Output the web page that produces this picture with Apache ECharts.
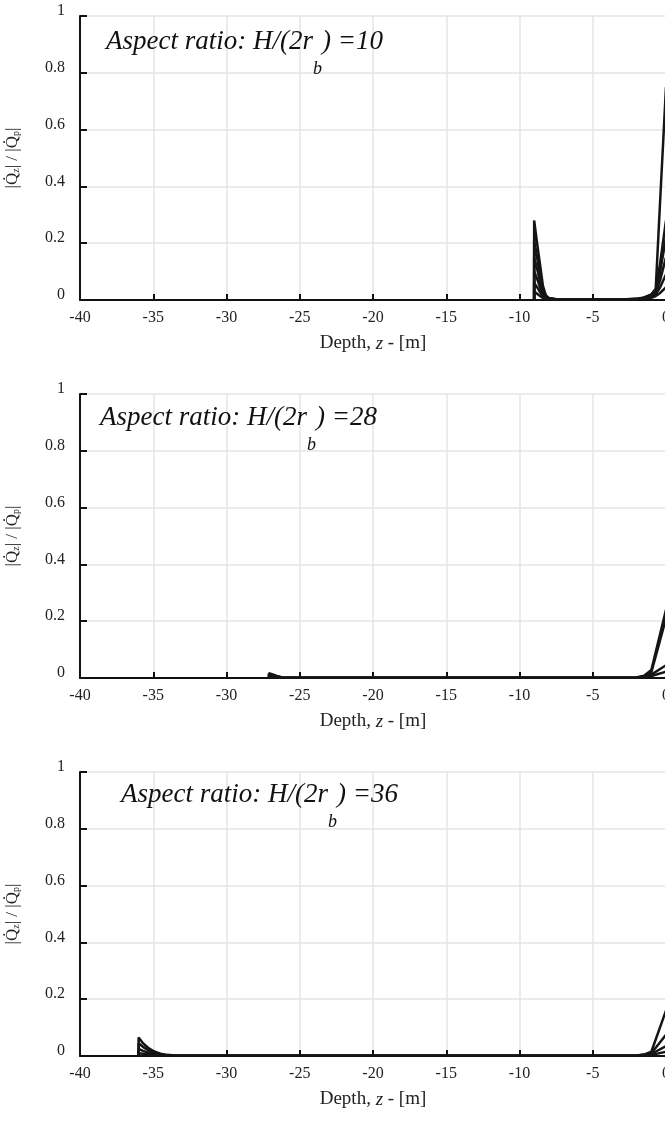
<!DOCTYPE html>
<html><head><meta charset="utf-8">
<script src="https://cdn.jsdelivr.net/npm/echarts@6/dist/echarts.min.js"></script>
<style>html,body{margin:0;padding:0;background:#fff}#c{width:665px;height:1123px}</style>
</head><body><div id="c"></div>
<script>
// ---- data ----
const aspectRatios = ['10', '28', '36'];
const yTickLabels = ['0', '0.2', '0.4', '0.6', '0.8', '1'];

// Panel 1 : H/(2rb) = 10
const zH10 = [-9.0, -9.0, -8.8, -8.6, -8.4, -8.2, -8.0, -7.5, -7.0, -6.0, -5.0, -4.0, -3.0, -2.0, -1.5, -1.0, -0.7, -0.4, 0.0];
const h10_a = [0, 0.28, 0.20, 0.125, 0.05, 0.016, 0.007, 0.003, 0.002, 0.001, 0.001, 0.001, 0.002, 0.004, 0.009, 0.020, 0.040, 0.35, 0.75];
const h10_b = [0, 0.21, 0.15, 0.090, 0.04, 0.013, 0.006, 0.003, 0.002, 0.001, 0.001, 0.001, 0.002, 0.004, 0.008, 0.018, 0.035, 0.13, 0.28];
const h10_c = [0, 0.15, 0.11, 0.065, 0.03, 0.011, 0.005, 0.002, 0.001, 0.001, 0.001, 0.001, 0.001, 0.003, 0.007, 0.016, 0.030, 0.10, 0.22];
const h10_d = [0, 0.10, 0.075, 0.045, 0.02, 0.008, 0.004, 0.002, 0.001, 0.001, 0.001, 0.001, 0.001, 0.003, 0.006, 0.014, 0.025, 0.07, 0.15];
const h10_e = [0, 0.06, 0.045, 0.028, 0.013, 0.006, 0.003, 0.002, 0.001, 0.001, 0.001, 0.001, 0.001, 0.002, 0.005, 0.011, 0.020, 0.045, 0.09];
const h10_f = [0, 0.03, 0.022, 0.014, 0.007, 0.004, 0.002, 0.001, 0.001, 0.001, 0.001, 0.001, 0.001, 0.002, 0.004, 0.008, 0.014, 0.025, 0.045];

// Panel 2 : H/(2rb) = 28
const zH28 = [-27.1, -27.1, -26.8, -26.5, -26.2, -25.0, -20.0, -15.0, -10.0, -5.0, -3.0, -2.0, -1.5, -1.0, 0.0];
const h28_a = [0, 0.017, 0.012, 0.006, 0.002, 0.001, 0.001, 0.001, 0.001, 0.001, 0.001, 0.002, 0.008, 0.028, 0.24];
const h28_b = [0, 0.013, 0.009, 0.005, 0.002, 0.001, 0.001, 0.001, 0.001, 0.001, 0.001, 0.002, 0.006, 0.020, 0.21];
const h28_c = [0, 0.008, 0.006, 0.003, 0.001, 0.001, 0.001, 0.001, 0.001, 0.001, 0.001, 0.002, 0.004, 0.012, 0.045];
const h28_d = [0, 0.004, 0.003, 0.002, 0.001, 0.001, 0.001, 0.001, 0.001, 0.001, 0.001, 0.001, 0.003, 0.007, 0.022];

// Panel 3 : H/(2rb) = 36
const zH36 = [-36.0, -36.0, -35.7, -35.3, -34.9, -34.5, -34.1, -33.5, -30.0, -25.0, -20.0, -15.0, -10.0, -5.0, -3.0, -2.0, -1.5, -1.0, 0.0];
const h36_a = [0, 0.065, 0.045, 0.027, 0.015, 0.008, 0.004, 0.002, 0.001, 0.001, 0.001, 0.001, 0.001, 0.001, 0.001, 0.002, 0.005, 0.015, 0.16];
const h36_b = [0, 0.045, 0.032, 0.019, 0.011, 0.006, 0.003, 0.002, 0.001, 0.001, 0.001, 0.001, 0.001, 0.001, 0.001, 0.002, 0.004, 0.010, 0.075];
const h36_c = [0, 0.025, 0.018, 0.011, 0.006, 0.004, 0.002, 0.001, 0.001, 0.001, 0.001, 0.001, 0.001, 0.001, 0.001, 0.001, 0.003, 0.007, 0.035];
const h36_d = [0, 0.010, 0.008, 0.005, 0.003, 0.002, 0.001, 0.001, 0.001, 0.001, 0.001, 0.001, 0.001, 0.001, 0.001, 0.001, 0.002, 0.004, 0.015];

const panels = [
  { z: zH10, curves: [h10_a, h10_b, h10_c, h10_d, h10_e, h10_f] },
  { z: zH28, curves: [h28_a, h28_b, h28_c, h28_d] },
  { z: zH36, curves: [h36_a, h36_b, h36_c, h36_d] }
];

// ---- layout / style ----
const SERIF = '"Liberation Serif", "Times New Roman", serif';
const gridTops = [16, 394, 772];
const titlePos = [[106, 28], [100, 404], [121, 781]];

const grids = gridTops.map(t => ({ left: 80, right: -1, top: t, height: 284, containLabel: false, outerBoundsMode: 'none' }));

const xAxes = gridTops.map((t, i) => ({
  type: 'value', gridIndex: i, min: -40, max: 0, interval: 5,
  name: '{n|Depth, }{i|z}{n| - [m]}', nameLocation: 'middle', nameGap: 34,
  nameTextStyle: { rich: {
    n: { fontFamily: SERIF, fontSize: 19, color: '#222' },
    i: { fontFamily: SERIF, fontSize: 19, fontStyle: 'italic', color: '#222' } } },
  axisLine: { onZero: false, lineStyle: { color: '#111', width: 2 } },
  axisTick: { inside: true, length: 6, lineStyle: { color: '#111', width: 2 } },
  axisLabel: { fontFamily: SERIF, fontSize: 16, color: '#222', margin: 10, showMaxLabel: true, showMinLabel: true },
  splitLine: { show: true, lineStyle: { color: '#e4e4e4', width: 1.5 } }
}));

const yAxes = gridTops.map((t, i) => ({
  type: 'value', gridIndex: i, min: 0, max: 1, interval: 0.2, position: 'left',
  name: '{n||Q\u0307}{s|z}{n|| / |Q\u0307}{s|p}{n||}', nameLocation: 'middle', nameGap: 59,
  nameTextStyle: { rich: {
    n: { fontFamily: SERIF, fontSize: 17, color: '#222' },
    s: { fontFamily: SERIF, fontSize: 10, color: '#222', verticalAlign: 'bottom', lineHeight: 12 } } },
  axisLine: { show: true, onZero: false, lineStyle: { color: '#111', width: 2 } },
  axisTick: { show: true, inside: true, length: 7, lineStyle: { color: '#111', width: 2 } },
  axisLabel: { fontFamily: SERIF, fontSize: 16, color: '#222', margin: 15, verticalAlign: 'bottom', lineHeight: 10,
    formatter: v => yTickLabels[Math.round(v / 0.2)] },
  splitLine: { show: true, lineStyle: { color: '#e4e4e4', width: 1.5 } }
}));

const titles = aspectRatios.map((r, i) => ({
  text: '{n|Aspect ratio: H/(2r}{s|b}{n|) =' + r + '}',
  left: titlePos[i][0], top: titlePos[i][1], padding: 0,
  textStyle: { fontWeight: 'normal', rich: {
    n: { fontFamily: SERIF, fontStyle: 'italic', fontWeight: 'normal', fontSize: 27, lineHeight: 32, verticalAlign: 'top', color: '#111' },
    s: { fontFamily: SERIF, fontStyle: 'italic', fontWeight: 'normal', fontSize: 18, lineHeight: 18, padding: [32, 0, 0, 0], verticalAlign: 'top', color: '#111' } } }
}));

const series = [];
panels.forEach((p, i) => {
  p.curves.forEach(vals => {
    series.push({
      type: 'line', xAxisIndex: i, yAxisIndex: i, showSymbol: false, symbol: 'none',
      data: p.z.map((z, k) => [z, vals[k]]),
      lineStyle: { color: '#151515', width: 2.5 }, silent: true
    });
  });
});

const chart = echarts.init(document.getElementById('c'), null, { renderer: 'canvas' });
chart.setOption({
  animation: false, backgroundColor: '#fff',
  title: titles, grid: grids, xAxis: xAxes, yAxis: yAxes, series: series
});
</script></body></html>
